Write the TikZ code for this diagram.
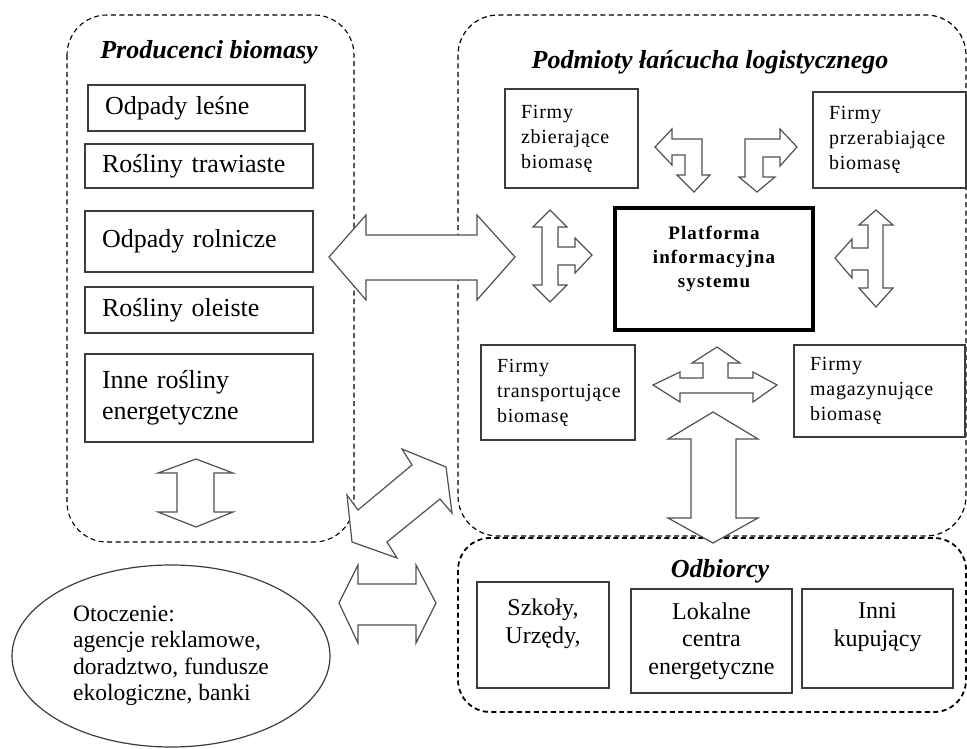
\documentclass[tikz,border=0pt]{standalone}
\usepackage{fontspec}
\setmainfont{Liberation Serif}
\newfontfamily\firmfont[LetterSpace=4]{Liberation Serif}
\newfontfamily\platfont[LetterSpace=6]{Liberation Serif}
\usetikzlibrary{shapes.geometric}
\definecolor{frameGray}{HTML}{3C3C3C}
\definecolor{arrowGray}{HTML}{505050}
\hyphenpenalty=10000
\exhyphenpenalty=10000

\begin{document}
\begin{tikzpicture}[
  x=1pt, y=-1pt,
  grp/.style={draw=black, dash pattern=on 5pt off 3.5pt, rounded corners=40pt, line width=1.1pt},
  title/.style={font=\fontsize{26}{30}\selectfont\bfseries\itshape},
  src/.style={draw=frameGray, line width=1.5pt, align=left, inner xsep=17pt, inner ysep=0pt,
              text width=194pt, font=\fontsize{26}{31}\selectfont},
  firm/.style={draw=frameGray, line width=1.4pt, align=left, inner xsep=16pt, inner ysep=0pt,
               font=\firmfont\fontsize{20}{25}\selectfont},
  plat/.style={draw=black, line width=4pt, align=center, minimum width=198pt, minimum height=122pt,
               font=\platfont\bfseries\fontsize{19}{24}\selectfont},
  buy/.style={draw=frameGray, line width=1.4pt, align=center, inner sep=0pt,
              font=\fontsize{24}{27.5}\selectfont},
  barrow/.style={draw=arrowGray, fill=white, line width=1.2pt, line join=miter}
]
\useasboundingbox (0,0) rectangle (967,749);

\draw[grp] (67,15) rectangle (354,542);
\draw[grp, line width=1.2pt] (458,15) rectangle (966,536);
\draw[grp, rounded corners=32pt, line width=1.8pt] (458,538) rectangle (966,712);

\node[title] (prodT) at (209,52) {Producenci biomasy};
\node[title] (chainT) at (710,62) {Podmioty łańcucha logistycznego};
\node[title] (buyT) at (720,571) {Odbiorcy};

\node[src, text width=183pt, minimum height=46pt] (lesne) at (196.5,108) {Odpady leśne};
\node[src, minimum height=44pt] (trawy) at (199,166) {Rośliny trawiaste};
\node[src, minimum height=61pt] (rolne) at (199,241.5) {Odpady rolnicze};
\node[src, minimum height=46pt] (oleiste) at (199,310) {Rośliny oleiste};
\node[src, minimum height=88pt] (inne) at (199,398) {Inne rośliny\\energetyczne};

\node[firm, text width=101pt, minimum height=99pt] (zbier) at (571.5,138.5) {Firmy\\zbierające\\biomasę};
\node[firm, text width=121pt, minimum height=96pt] (przer) at (889.5,140) {Firmy\\przerabiające\\biomasę};
\node[firm, text width=122pt, minimum height=95pt] (transp) at (558,392.5) {Firmy\\transportujące\\biomasę};
\node[firm, text width=139pt, minimum height=92pt] (magaz) at (879.5,391) {Firmy\\magazynujące\\biomasę};
\node[plat] (platform) at (714,269) {Platforma\\informacyjna\\systemu\\\mbox{}};

\node[buy, minimum width=132pt, minimum height=106pt] (szkoly) at (543,635) {Szkoły,\\Urzędy,\\\mbox{}};
\node[buy, minimum width=161pt, minimum height=104pt] (lokalne) at (711.5,641) {Lokalne\\centra\\energetyczne};
\node[buy, minimum width=151pt, minimum height=99pt] (inni) at (877.5,638.5) {Inni\\kupujący\\\mbox{}};

\node[ellipse, draw=frameGray, line width=1.2pt, minimum width=318pt, minimum height=182pt, align=left,
      font=\fontsize{23.5}{26.5}\selectfont] (env) at (171,656)
  {Otoczenie:\\agencje reklamowe,\\doradztwo, fundusze\\ekologiczne, banki};

\draw[barrow] (329,257) -- (366,215) -- (366,235) -- (477,235) -- (477,215) -- (515,257)
  -- (477,300) -- (477,280) -- (366,280) -- (366,300) -- cycle;
\draw[barrow] (196,459) -- (233,473) -- (214,473) -- (214,512) -- (233,512) -- (196,527)
  -- (158,512) -- (177,512) -- (177,473) -- (158,473) -- cycle;
\draw[barrow] (402,449) -- (446,467) -- (452,513) -- (440,499) -- (387,542) -- (397,558)
  -- (352,542) -- (347,495) -- (358,510) -- (412,465) -- cycle;
\draw[barrow] (339,603) -- (358,565) -- (358,584) -- (416,584) -- (416,565) -- (436,603)
  -- (416,643) -- (416,625) -- (358,625) -- (358,643) -- cycle;
\draw[barrow] (550,210) -- (567,227) -- (558,227) -- (558,247) -- (575,247) -- (575,238)
  -- (592,255) -- (575,273) -- (575,265) -- (558,265) -- (558,285) -- (567,285) -- (550,302)
  -- (533,285) -- (542,285) -- (542,227) -- (533,227) -- cycle;
\draw[barrow] (655,147) -- (672,129) -- (672,139) -- (702,139) -- (702,175) -- (710,175)
  -- (694,192) -- (677,175) -- (685,175) -- (685,155) -- (672,155) -- (672,165) -- cycle;
\draw[barrow] (797,147) -- (780,129) -- (780,139) -- (745,139) -- (745,177) -- (739,177)
  -- (757,192) -- (775,177) -- (763,177) -- (763,157) -- (780,157) -- (780,166) -- cycle;
\draw[barrow] (876,210) -- (893,225) -- (883,225) -- (883,288) -- (893,288) -- (876,307)
  -- (859,288) -- (868,288) -- (868,270) -- (852,270) -- (852,278) -- (835,258) -- (852,239)
  -- (852,248) -- (868,248) -- (868,225) -- (859,225) -- cycle;
\draw[barrow] (717,347) -- (740,363) -- (728,363) -- (728,378) -- (753,378) -- (753,372)
  -- (777,385) -- (753,402) -- (753,393) -- (680,393) -- (680,402) -- (653,385) -- (680,372)
  -- (680,378) -- (703,378) -- (703,363) -- (692,363) -- cycle;
\draw[barrow] (713,412) -- (758,439) -- (736,439) -- (736,518) -- (758,518) -- (713,543)
  -- (668,518) -- (691,518) -- (691,439) -- (668,439) -- cycle;
\end{tikzpicture}
\end{document}
